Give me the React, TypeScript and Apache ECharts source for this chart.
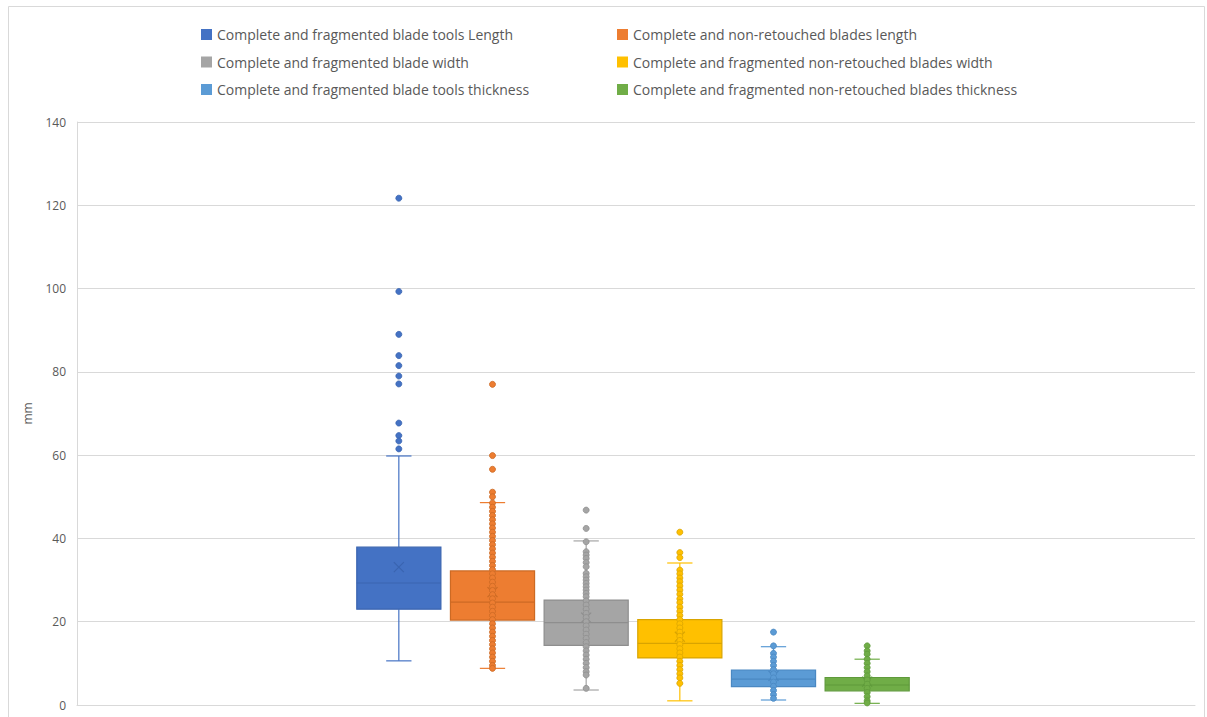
import React, { useEffect, useRef } from 'react';
import * as echarts from 'echarts';

// ---------- data ----------
const seriesNames = [
  'Complete and fragmented blade tools Length',
  'Complete and non-retouched blades length',
  'Complete and fragmented blade width',
  'Complete and fragmented non-retouched blades width',
  'Complete and fragmented blade tools thickness',
  'Complete and fragmented non-retouched blades thickness',
];
const categories = ['toolsLength', 'bladesLength', 'toolsWidth', 'bladesWidth', 'toolsThickness', 'bladesThickness'];
const yTicks = [0, 20, 40, 60, 80, 100, 120, 140];

// box stats: [lower whisker, Q1, median, Q3, upper whisker]
const toolsLengthBox = [10.6, 23.0, 29.3, 37.9, 59.8];
const bladesLengthBox = [8.8, 20.4, 24.7, 32.2, 48.6];
const toolsWidthBox = [3.6, 14.3, 19.8, 25.2, 39.4];
const bladesWidthBox = [1.0, 11.3, 14.8, 20.5, 34.1];
const toolsThicknessBox = [1.2, 4.4, 6.2, 8.4, 14.0];
const bladesThicknessBox = [0.4, 3.4, 4.8, 6.6, 11.0];
const means = [33.1, 27.1, 21.0, 16.4, 7.0, 5.6];

// plotted points (outliers and inner points)
const toolsLengthPoints = [121.7, 99.3, 89.0, 83.9, 81.5, 79.0, 77.1, 67.7, 64.7, 63.4, 61.5];
const bladesLengthPoints = [
  77.0, 59.9, 56.6, 51.1, 50.0, 48.5, 47.5, 46.5, 45.5, 44.5, 43.5, 42.5, 41.5, 40.5, 39.5, 38.5, 37.5,
  36.5, 35.5, 34.5, 33.5, 32.5, 31.5, 30.5, 29.5, 28.5, 27.5, 26.5, 25.5, 24.5, 23.5, 22.5, 21.5, 20.5,
  19.5, 18.5, 17.5, 16.5, 15.5, 14.5, 13.5, 12.5, 11.5, 10.5, 9.5, 8.8,
];
const toolsWidthPoints = [
  46.8, 42.4, 39.2, 36.8, 36.0, 35.2, 34.2, 33.2, 31.6, 30.8, 30.0, 29.2, 28.4, 27.6, 26.8, 26.0, 25.0,
  24.0, 23.0, 22.0, 21.0, 20.0, 19.0, 18.0, 17.0, 16.0, 15.0, 14.0, 13.0, 12.0, 11.0, 10.0, 9.0, 8.0,
  7.2, 4.0,
];
const bladesWidthPoints = [
  41.5, 36.6, 35.4, 32.4, 31.5, 30.5, 29.6, 28.6, 27.6, 26.6, 25.5, 24.6, 23.5, 22.5, 21.5, 20.5, 19.5,
  18.5, 17.5, 16.5, 15.5, 14.5, 13.5, 12.5, 11.5, 10.5, 9.5, 8.5, 7.5, 6.5, 5.2,
];
const toolsThicknessPoints = [17.5, 14.2, 12.4, 11.5, 10.5, 9.5, 8.5, 7.5, 6.5, 5.5, 4.5, 3.5, 2.5, 1.6];
const bladesThicknessPoints = [14.2, 13.0, 12.2, 11.0, 10.0, 9.0, 8.0, 7.0, 6.0, 5.0, 4.0, 3.0, 2.0, 1.0, 0.5];

const boxes = [toolsLengthBox, bladesLengthBox, toolsWidthBox, bladesWidthBox, toolsThicknessBox, bladesThicknessBox];
const points = [
  toolsLengthPoints, bladesLengthPoints, toolsWidthPoints,
  bladesWidthPoints, toolsThicknessPoints, bladesThicknessPoints,
];

// ---------- styles ----------
const fillColors = ['#4472C4', '#ED7D31', '#A5A5A5', '#FFC000', '#5B9BD5', '#70AD47'];
const lineColors = ['#3A64B0', '#CC6A24', '#8E8E8E', '#D9A400', '#4A88C2', '#5F9A3B'];
const FONT = '"Open Sans", "Noto Sans", sans-serif';

function makeRender(fill: string, stroke: string) {
  return (params: any, api: any) => {
    const cat = api.value(0);
    const lo = api.coord([cat, api.value(1)]);
    const q1 = api.coord([cat, api.value(2)]);
    const med = api.coord([cat, api.value(3)]);
    const q3 = api.coord([cat, api.value(4)]);
    const hi = api.coord([cat, api.value(5)]);
    const mean = api.coord([cat, api.value(6)]);
    const band = api.size([1, 0])[0];
    const half = band * 0.449;
    const cap = band * 0.135;
    const xs = 5;
    const cx = med[0];
    const lineStyle = { stroke: fill, lineWidth: 1.2 };
    return {
      type: 'group',
      children: [
        { type: 'line', shape: { x1: cx, y1: q3[1], x2: cx, y2: hi[1] }, style: lineStyle },
        { type: 'line', shape: { x1: cx, y1: q1[1], x2: cx, y2: lo[1] }, style: lineStyle },
        { type: 'line', shape: { x1: cx - cap, y1: hi[1], x2: cx + cap, y2: hi[1] }, style: lineStyle },
        { type: 'line', shape: { x1: cx - cap, y1: lo[1], x2: cx + cap, y2: lo[1] }, style: lineStyle },
        {
          type: 'rect',
          shape: { x: cx - half, y: q3[1], width: half * 2, height: q1[1] - q3[1] },
          style: { fill, stroke, lineWidth: 1.2 },
        },
        { type: 'line', shape: { x1: cx - half, y1: med[1], x2: cx + half, y2: med[1] }, style: { stroke, lineWidth: 1.2 } },
        { type: 'line', shape: { x1: cx - xs, y1: mean[1] - xs, x2: cx + xs, y2: mean[1] + xs }, style: { stroke, lineWidth: 1.2 } },
        { type: 'line', shape: { x1: cx - xs, y1: mean[1] + xs, x2: cx + xs, y2: mean[1] - xs }, style: { stroke, lineWidth: 1.2 } },
      ],
    };
  };
}

export default function App() {
  const ref = useRef<HTMLDivElement>(null);
  useEffect(() => {
    if (!ref.current) return;
    const chart = echarts.init(ref.current, null, { renderer: 'svg' });
    const series: any[] = [];
    seriesNames.forEach((name, i) => {
      const b = boxes[i];
      series.push({
        type: 'custom',
        name,
        xAxisIndex: 1,
        yAxisIndex: 1,
        z: 2,
        itemStyle: { color: fillColors[i] },
        encode: { x: 0, y: [1, 2, 3, 4, 5, 6] },
        renderItem: makeRender(fillColors[i], lineColors[i]),
        data: [[i, b[0], b[1], b[2], b[3], b[4], means[i]]],
      });
      series.push({
        type: 'scatter',
        name,
        xAxisIndex: 1,
        yAxisIndex: 1,
        z: 3,
        symbol: 'circle',
        symbolSize: 6,
        itemStyle: { color: fillColors[i], borderColor: lineColors[i], borderWidth: 0.8, opacity: 1 },
        data: points[i].map((v) => [categories[i], v]),
      });
    });
    const legendCommon = {
      orient: 'vertical',
      icon: 'rect',
      itemWidth: 11,
      itemHeight: 11,
      itemGap: 10.5,
      top: 26,
      padding: 0,
      selectedMode: false,
      textStyle: { fontFamily: FONT, fontSize: 14, color: '#595959', lineHeight: 17 },
    };
    chart.setOption({
      animation: false,
      backgroundColor: '#ffffff',
      textStyle: { fontFamily: FONT },
      legend: [
        { ...legendCommon, left: 201, data: [seriesNames[0], seriesNames[2], seriesNames[4]] },
        { ...legendCommon, left: 617, data: [seriesNames[1], seriesNames[3], seriesNames[5]] },
      ],
      graphic: [
        {
          type: 'rect',
          shape: { x: 8.5, y: 6.5, width: 1196, height: 720 },
          style: { fill: 'none', stroke: '#D9D9D9', lineWidth: 1 },
          silent: true,
        },
      ],
      grid: [
        { left: 77, top: 122, width: 1118, height: 583 },
        { left: 352, top: 122, width: 562, height: 583 },
      ],
      xAxis: [
        {
          type: 'category',
          gridIndex: 0,
          data: [''],
          axisLine: { show: true, lineStyle: { color: '#D9D9D9' } },
          axisTick: { show: false },
          axisLabel: { show: false },
        },
        {
          type: 'category',
          gridIndex: 1,
          data: categories,
          show: false,
        },
      ],
      yAxis: [
        {
          type: 'value',
          gridIndex: 0,
          min: 0,
          max: 140,
          interval: 20,
          name: 'mm',
          nameLocation: 'middle',
          nameRotate: 90,
          nameGap: 44,
          nameTextStyle: { color: '#595959', fontSize: 12, fontFamily: FONT },
          axisLine: { show: true, lineStyle: { color: '#D9D9D9' } },
          axisTick: { show: false },
          axisLabel: {
            color: '#595959',
            fontSize: 12,
            fontFamily: FONT,
            margin: 11,
            formatter: (v: number) => (yTicks.includes(v) ? String(v) : ''),
          },
          splitLine: { show: true, lineStyle: { color: '#D9D9D9', width: 1 } },
        },
        {
          type: 'value',
          gridIndex: 1,
          min: 0,
          max: 140,
          show: false,
          splitLine: { show: false },
        },
      ],
      series,
    });
    return () => chart.dispose();
  }, []);
  return (
    <div
      ref={ref}
      style={{ position: 'absolute', left: 0, top: 0, width: 1207, height: 717 }}
    />
  );
}
